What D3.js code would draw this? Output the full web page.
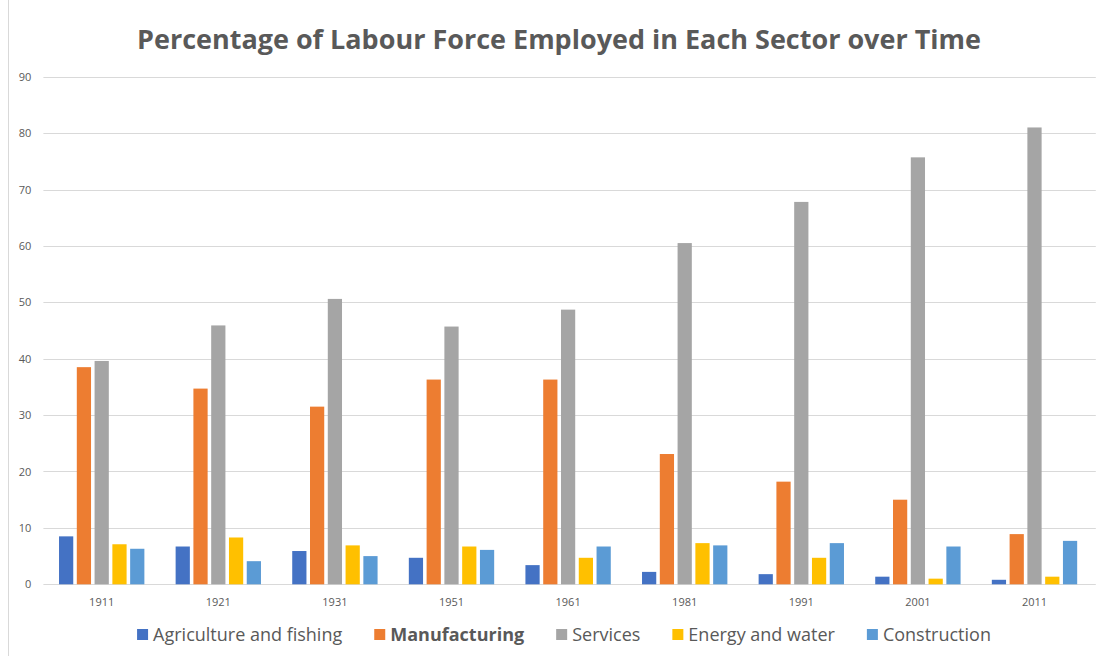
<!DOCTYPE html>
<html lang="en">
  <head>
    <meta charset="utf-8">
    <title>Percentage of Labour Force Employed in Each Sector over Time</title>
    <style>
    body {margin: 0; background: #fff;}
    text {font-family: "Open Sans", "Noto Sans", sans-serif;}
    </style>
  </head>
  <body>
    <div id="chart"></div>

    <script src="https://cdn.jsdelivr.net/npm/d3@7"></script>
    <script>
      // data
      var years = ["1911", "1921", "1931", "1951", "1961", "1981", "1991", "2001", "2011"];
      var sectors = ["Agriculture and fishing", "Manufacturing", "Services", "Energy and water", "Construction"];
      var agriculture = [8.5, 6.7, 5.9, 4.7, 3.4, 2.2, 1.8, 1.35, 0.8];
      var manufacturing = [38.5, 34.7, 31.5, 36.3, 36.3, 23.1, 18.2, 15.0, 8.9];
      var services = [39.6, 45.9, 50.6, 45.7, 48.7, 60.5, 67.8, 75.7, 81.0];
      var energy = [7.1, 8.3, 6.9, 6.7, 4.7, 7.3, 4.7, 1.0, 1.35];
      var construction = [6.3, 4.1, 5.0, 6.1, 6.7, 6.9, 7.3, 6.7, 7.7];
      var yTicks = [0, 10, 20, 30, 40, 50, 60, 70, 80, 90];
      var colors = ["#4472C4", "#ED7D31", "#A5A5A5", "#FFC000", "#5B9BD5"];

      var seriesValues = [agriculture, manufacturing, services, energy, construction];

      var width = 1104, height = 656;
      var plot = {left: 43.4, right: 1092.8, top: 76.7, bottom: 584.3};

      var svg = d3.select("#chart")
        .append("svg")
          .attr("width", width)
          .attr("height", height);

      // light frame line on the left like the original
      svg.append("line")
        .attr("x1", 8.5).attr("x2", 8.5)
        .attr("y1", 0).attr("y2", height)
        .attr("stroke", "#d9d9d9");

      // title
      svg.append("text")
        .attr("x", 559)
        .attr("y", 49)
        .attr("text-anchor", "middle")
        .attr("textLength", 844)
        .attr("lengthAdjust", "spacingAndGlyphs")
        .style("font-size", "27px")
        .style("font-weight", 700)
        .style("fill", "#595959")
        .text("Percentage of Labour Force Employed in Each Sector over Time");

      var x0 = d3.scaleBand()
        .domain(years)
        .range([plot.left, plot.right])
        .paddingInner(0.268)
        .paddingOuter(0.134);

      var x1 = d3.scaleBand()
        .domain(sectors)
        .range([0, x0.bandwidth()])
        .paddingInner(0.2);

      var y = d3.scaleLinear()
        .domain([0, 90])
        .range([plot.bottom, plot.top]);

      // gridlines
      svg.append("g")
        .selectAll("line")
        .data(yTicks)
        .enter().append("line")
          .attr("x1", plot.left)
          .attr("x2", plot.right + 3)
          .attr("y1", function(d) { return Math.round(y(d)) + 0.5; })
          .attr("y2", function(d) { return Math.round(y(d)) + 0.5; })
          .attr("stroke", "#d9d9d9")
          .attr("stroke-width", 1);

      // y axis labels
      var yAxis = svg.append("g")
        .attr("class", "axis axis--y")
        .attr("transform", "translate(" + (plot.left - 12) + ",0)")
        .call(d3.axisLeft(y).tickValues(yTicks).tickSize(0).tickPadding(0));
      yAxis.select(".domain").remove();
      yAxis.selectAll("text")
        .style("font-size", "11px")
        .style("fill", "#595959");

      // x axis labels
      var xAxis = svg.append("g")
        .attr("class", "axis axis--x")
        .attr("transform", "translate(0," + plot.bottom + ")")
        .call(d3.axisBottom(x0).tickSize(0).tickPadding(14));
      xAxis.select(".domain").remove();
      xAxis.selectAll("text")
        .style("font-size", "11px")
        .style("fill", "#595959");

      // bars
      var groups = svg.append("g")
        .selectAll("g")
        .data(years)
        .enter().append("g")
          .attr("transform", function(d) { return "translate(" + x0(d) + ",0)"; });

      groups.selectAll("rect")
        .data(function(d, i) {
          return sectors.map(function(s, j) { return {sector: s, value: seriesValues[j][i], k: j}; });
        })
        .enter().append("rect")
          .attr("x", function(d) { return x1(d.sector); })
          .attr("y", function(d) { return y(d.value); })
          .attr("width", x1.bandwidth())
          .attr("height", function(d) { return y(0) - y(d.value); })
          .attr("fill", function(d) { return colors[d.k]; });

      // legend, laid out from measured text widths and centred
      var legend = svg.append("g").attr("class", "legend");
      var items = legend.selectAll("g")
        .data(sectors)
        .enter().append("g");
      items.append("rect")
        .attr("width", 11)
        .attr("height", 11)
        .attr("y", -12)
        .attr("fill", function(d, i) { return colors[i]; });
      items.append("text")
        .attr("x", 16)
        .attr("y", 0)
        .style("font-size", "18px")
        .style("font-weight", function(d) { return d === "Manufacturing" ? 700 : 400; })
        .style("fill", "#595959")
        .text(function(d) { return d; });

      var gap = 32, pos = 0, offsets = [];
      items.each(function() {
        offsets.push(pos);
        pos += 16 + this.querySelector("text").getComputedTextLength() + gap;
      });
      var total = pos - gap;
      var start = 564 - total / 2;
      items.attr("transform", function(d, i) { return "translate(" + (start + offsets[i]) + ",641)"; });
    </script>
  </body>
</html>
